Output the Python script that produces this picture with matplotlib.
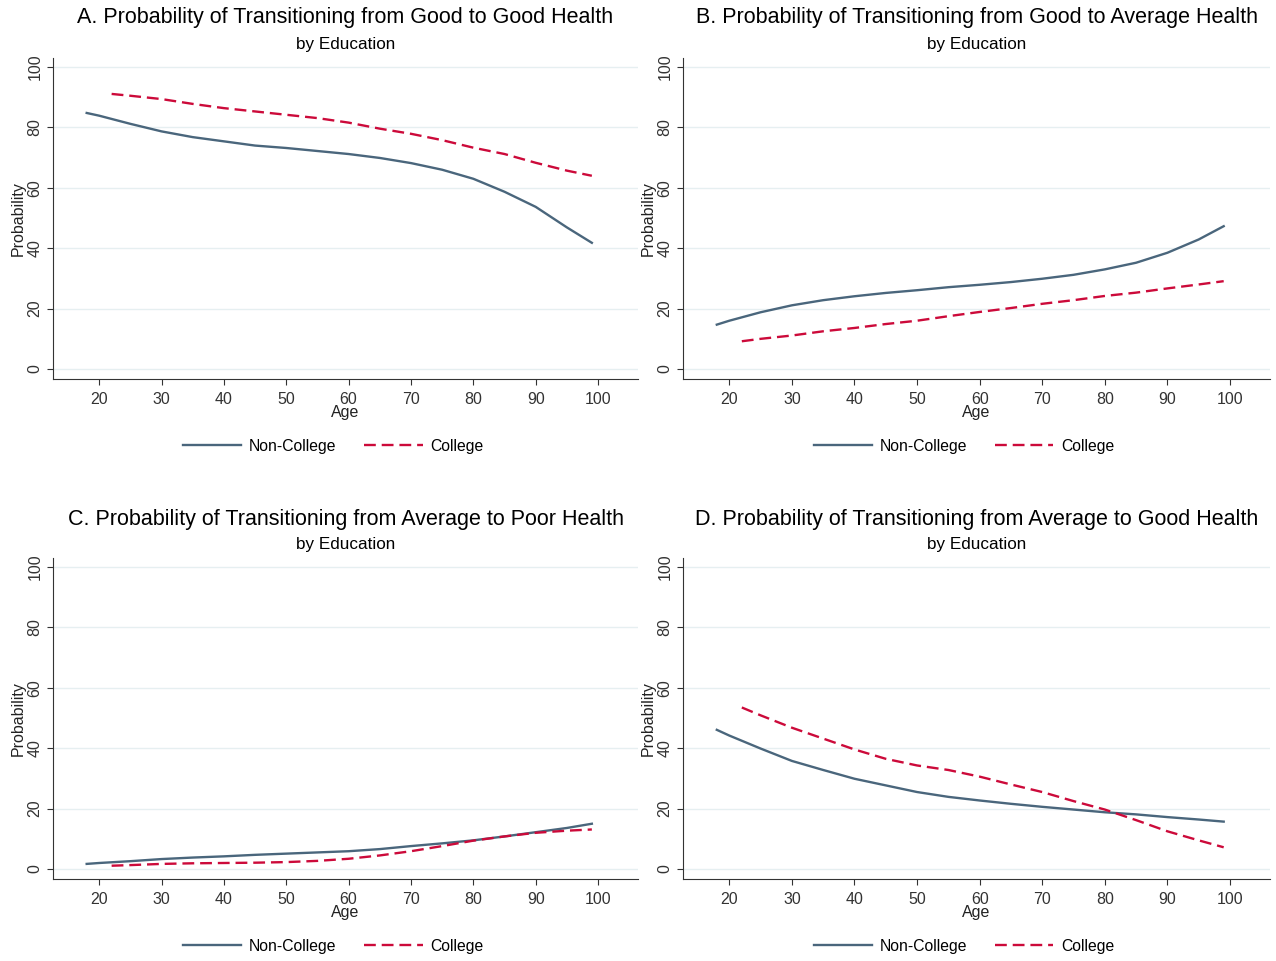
import matplotlib
matplotlib.use("Agg")
import matplotlib.pyplot as plt

plt.rcParams['font.family'] = ['Liberation Sans', 'DejaVu Sans']

ages_nc = [18, 20, 25, 30, 35, 40, 45, 50, 55, 60, 65, 70, 75, 80, 85, 90, 95, 99]
ages_c = [22, 25, 30, 35, 40, 45, 50, 55, 60, 65, 70, 75, 80, 85, 90, 95, 99]

# A. Good -> Good
a_noncollege = [84.8, 83.9, 81.2, 78.7, 76.8, 75.4, 74.0, 73.2, 72.2, 71.2, 69.9, 68.2, 66.0, 63.0, 58.7, 53.7, 46.9, 41.8]
a_college = [91.1, 90.5, 89.4, 87.8, 86.4, 85.3, 84.2, 83.1, 81.6, 79.6, 77.9, 75.8, 73.3, 71.2, 68.3, 65.7, 64.0]
# B. Good -> Average
b_noncollege = [14.7, 16.0, 18.8, 21.1, 22.8, 24.1, 25.2, 26.1, 27.1, 27.9, 28.8, 29.9, 31.2, 33.0, 35.2, 38.5, 42.9, 47.3]
b_college = [9.2, 10.0, 11.1, 12.5, 13.6, 14.9, 16.0, 17.5, 18.9, 20.2, 21.6, 22.8, 24.2, 25.3, 26.7, 28.0, 29.1]
# C. Average -> Poor
c_noncollege = [1.7, 2.0, 2.6, 3.3, 3.8, 4.2, 4.7, 5.1, 5.5, 5.9, 6.6, 7.6, 8.5, 9.5, 10.8, 12.2, 13.6, 15.0]
c_college = [1.1, 1.3, 1.7, 1.9, 2.0, 2.1, 2.3, 2.7, 3.4, 4.5, 5.9, 7.6, 9.4, 10.8, 12.0, 12.7, 13.1]
# D. Average -> Good
d_noncollege = [46.1, 44.2, 39.9, 35.8, 32.8, 29.9, 27.7, 25.5, 23.9, 22.7, 21.6, 20.6, 19.7, 18.8, 18.1, 17.2, 16.4, 15.7]
d_college = [53.5, 50.9, 46.8, 43.2, 39.6, 36.5, 34.3, 32.8, 30.6, 28.0, 25.5, 22.5, 19.7, 16.2, 12.5, 9.5, 7.2]

titles = [
    "A. Probability of Transitioning from Good to Good Health",
    "B. Probability of Transitioning from Good to Average Health",
    "C. Probability of Transitioning from Average to Poor Health",
    "D. Probability of Transitioning from Average to Good Health",
]
panels = [(a_noncollege, a_college), (b_noncollege, b_college),
          (c_noncollege, c_college), (d_noncollege, d_college)]

NAVY = "#4a667c"
RED = "#cc0a3a"

fig = plt.figure(figsize=(12.76, 9.61), dpi=100)
W, H = 1276, 961
# left, top, right, bottom in pixels
boxes = [(53, 58, 638, 379), (683, 58, 1270, 379),
         (53, 558, 638, 879), (683, 558, 1270, 879)]

for i, (l, t, r, b) in enumerate(boxes):
    ax = fig.add_axes([l / W, 1 - b / H, (r - l) / W, (b - t) / H])
    nc, co = panels[i]
    ax.plot(ages_nc, nc, color=NAVY, lw=1.7, label="Non-College")
    ax.plot(ages_c, co, color=RED, lw=1.7, dashes=(5, 2.5), label="College")
    ax.set_xlim(12.6, 106.4)
    ax.set_ylim(-3.3, 103)
    ax.set_xticks(range(20, 101, 10))
    ax.set_yticks(range(0, 101, 20))
    ax.grid(axis="y", color="#e6eff1", lw=1)
    ax.set_axisbelow(True)
    for s in ["top", "right"]:
        ax.spines[s].set_visible(False)
    ax.spines["left"].set_color("#333333")
    ax.spines["bottom"].set_color("#333333")
    ax.tick_params(axis="both", colors="#333333", labelsize=11.5, length=4, direction="out")
    ax.tick_params(axis="x", pad=5)
    ax.tick_params(axis="y", labelrotation=90)
    for lab in ax.get_yticklabels():
        lab.set_va("center")
    ax.set_xlabel("Age", fontsize=11.5, labelpad=-1, color="#222222")
    ax.set_ylabel("Probability", fontsize=11.5, color="#222222")
    ax.yaxis.set_label_coords(-0.046, 0.5)
    cx = (l + r) / 2 / W
    ty = 18 if i < 2 else 519
    fig.text(cx, 1 - ty / H, titles[i], ha="center", va="center", fontsize=15.5)
    fig.text(cx, 1 - (ty + 26) / H, "by Education", ha="center", va="center", fontsize=12.3)
    ax.legend(loc="center", bbox_to_anchor=(0.479, -0.209), ncol=2,
              frameon=False, fontsize=11.3, handlelength=3.7, handletextpad=0.5,
              columnspacing=1.8)

fig.savefig("out.png", dpi=100, facecolor="white")
